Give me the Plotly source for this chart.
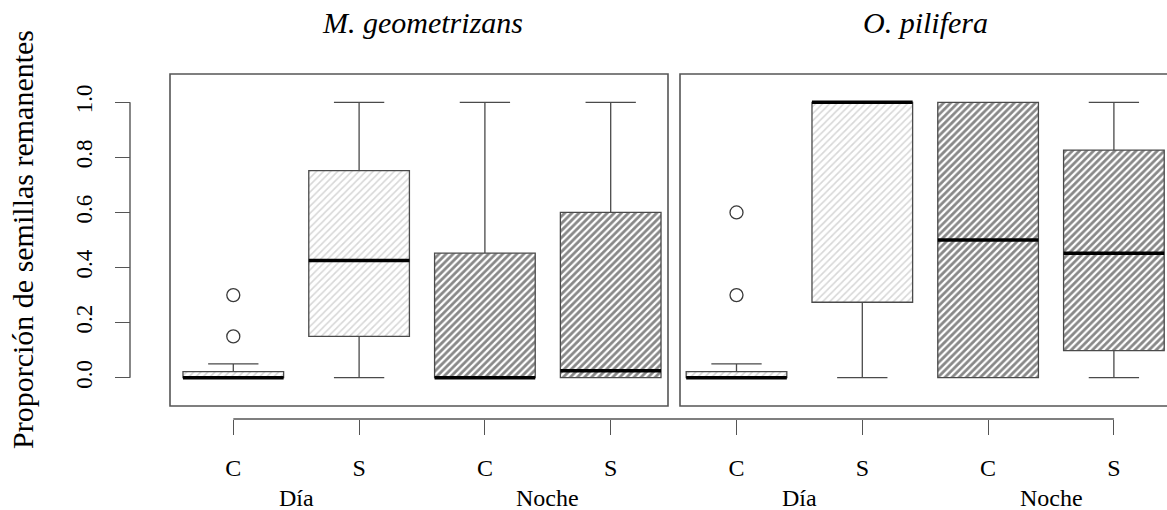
import plotly.graph_objects as go

# ---------------- data ----------------
species = ["M. geometrizans", "O. pilifera"]
periods = ["Día", "Noche"]
treatments = ["C", "S"]

# 8 boxes: species x period x treatment (positions 1..8)
positions = [1, 2, 3, 4, 5, 6, 7, 8]
tick_text = ["C", "S", "C", "S", "C", "S", "C", "S"]
box_period = ["Día", "Día", "Noche", "Noche", "Día", "Día", "Noche", "Noche"]

q1 = [0.0, 0.150, 0.0, 0.0, 0.0, 0.274, 0.0, 0.098]
median = [0.0, 0.426, 0.0, 0.025, 0.0, 1.0, 0.50, 0.452]
q3 = [0.022, 0.752, 0.452, 0.60, 0.022, 1.0, 1.0, 0.826]
lower = [0.0, 0.0, 0.0, 0.0, 0.0, 0.0, 0.0, 0.0]
upper = [0.05, 1.0, 1.0, 1.0, 0.05, 1.0, 1.0, 1.0]

outlier_x = [1, 1, 5, 5]
outlier_y = [0.30, 0.15, 0.60, 0.30]

y_ticks = [0.0, 0.2, 0.4, 0.6, 0.8, 1.0]
y_tick_text = ["0.0", "0.2", "0.4", "0.6", "0.8", "1.0"]

# ---------------- styling ----------------
W, H = 1167, 510
FONT = "Liberation Serif"
BOX_W = 0.8
LINE_C = "#4a4a4a"

fig = go.Figure()

# hatched box bodies
for per, fg, sol, sz in [("Día", "#b0b0b0", 0.32, 5), ("Noche", "#111111", 0.55, 5)]:
    idx = [i for i, p in enumerate(box_period) if p == per]
    fig.add_trace(go.Bar(
        x=[positions[i] for i in idx],
        y=[q3[i] - q1[i] for i in idx],
        base=[q1[i] for i in idx],
        width=BOX_W,
        marker=dict(color="white", line=dict(width=0),
                    pattern=dict(shape="/", fgcolor=fg, bgcolor="white",
                                 size=sz, solidity=sol)),
        showlegend=False, hoverinfo="skip",
    ))

# box outlines + whiskers
fig.add_trace(go.Box(
    x=positions, q1=q1, median=median, q3=q3,
    lowerfence=lower, upperfence=upper,
    width=BOX_W, whiskerwidth=0.5,
    fillcolor="rgba(0,0,0,0)",
    line=dict(color=LINE_C, width=1.3),
    boxpoints=False, showlegend=False, hoverinfo="skip",
))

# thick medians
for xp, m in zip(positions, median):
    fig.add_trace(go.Scatter(
        x=[xp - BOX_W / 2, xp + BOX_W / 2], y=[m, m], mode="lines",
        line=dict(color="black", width=3.5),
        showlegend=False, hoverinfo="skip",
    ))

# outliers
fig.add_trace(go.Scatter(
    x=outlier_x, y=outlier_y, mode="markers",
    marker=dict(symbol="circle-open", size=13, color="#3a3a3a",
                line=dict(width=1.3, color="#3a3a3a")),
    showlegend=False, hoverinfo="skip",
))

# axis geometry (pixel -> data)
px_x1, px_unit = 233.3, 125.8
x_range = [1 - px_x1 / px_unit, 1 + (W - px_x1) / px_unit]
px_y0, px_yunit = 377.7, 275.4
y_range = [(px_y0 - H) / px_yunit, px_y0 / px_yunit]

def xd(px):
    return 1 + (px - px_x1) / px_unit

def yd(py):
    return (px_y0 - py) / px_yunit

xaxis_pos = 1 - 419 / H
yaxis_pos = 130 / W

shapes = []
# panel frames
for (a, b) in [(170, 668), (680, 1177)]:
    shapes.append(dict(type="rect", xref="x", yref="y",
                       x0=xd(a), x1=xd(b), y0=yd(406), y1=yd(74),
                       line=dict(color="#555555", width=1.6),
                       fillcolor="rgba(0,0,0,0)", layer="above"))
# R-style axis lines
shapes.append(dict(type="line", xref="x", yref="paper",
                   x0=positions[0], x1=positions[-1], y0=xaxis_pos, y1=xaxis_pos,
                   line=dict(color="#555555", width=1.4)))
shapes.append(dict(type="line", xref="paper", yref="y",
                   x0=yaxis_pos, x1=yaxis_pos, y0=y_ticks[0], y1=y_ticks[-1],
                   line=dict(color="#555555", width=1.4)))

annotations = []
# panel titles
for sp, xc in zip(species, [2.5, 6.5]):
    annotations.append(dict(text=sp, x=xc, xref="x", y=1 - 23 / H, yref="paper",
                            xanchor="center", yanchor="middle", showarrow=False,
                            font=dict(family=FONT, size=30, color="black", style="italic")))
# period labels
for i, per in enumerate(periods * 2):
    xc = (positions[2 * i] + positions[2 * i + 1]) / 2
    annotations.append(dict(text=per, x=xc, xref="x", y=1 - 498 / H, yref="paper",
                            xanchor="center", yanchor="middle", showarrow=False,
                            font=dict(family=FONT, size=24, color="black")))
# y title
annotations.append(dict(text="Proporción de semillas remanentes", textangle=-90,
                        x=22 / W, xref="paper", y=1 - 240 / H, yref="paper",
                        xanchor="center", yanchor="middle", showarrow=False,
                        font=dict(family=FONT, size=30, color="black")))

fig.update_layout(
    width=W, height=H,
    margin=dict(l=0, r=0, t=0, b=0),
    paper_bgcolor="white", plot_bgcolor="white",
    barmode="overlay", boxmode="overlay",
    shapes=shapes, annotations=annotations,
    font=dict(family=FONT, color="black"),
    xaxis=dict(range=x_range, domain=[0, 1], anchor="free", position=xaxis_pos,
               tickmode="array", tickvals=positions, ticktext=tick_text,
               ticks="outside", ticklen=15, tickwidth=1.3, tickcolor="#555555",
               ticklabelstandoff=12,
               showline=False, showgrid=False, zeroline=False, automargin=False,
               tickfont=dict(family=FONT, size=24, color="black")),
    yaxis=dict(range=y_range, domain=[0, 1], anchor="free", position=yaxis_pos,
               tickmode="array", tickvals=y_ticks, ticktext=y_tick_text,
               ticks="outside", ticklen=15, tickwidth=1.3, tickcolor="#555555",
               tickangle=-90, ticklabelstandoff=14,
               showline=False, showgrid=False, zeroline=False, automargin=False,
               tickfont=dict(family=FONT, size=23, color="black")),
)

fig.write_html("out.html")
